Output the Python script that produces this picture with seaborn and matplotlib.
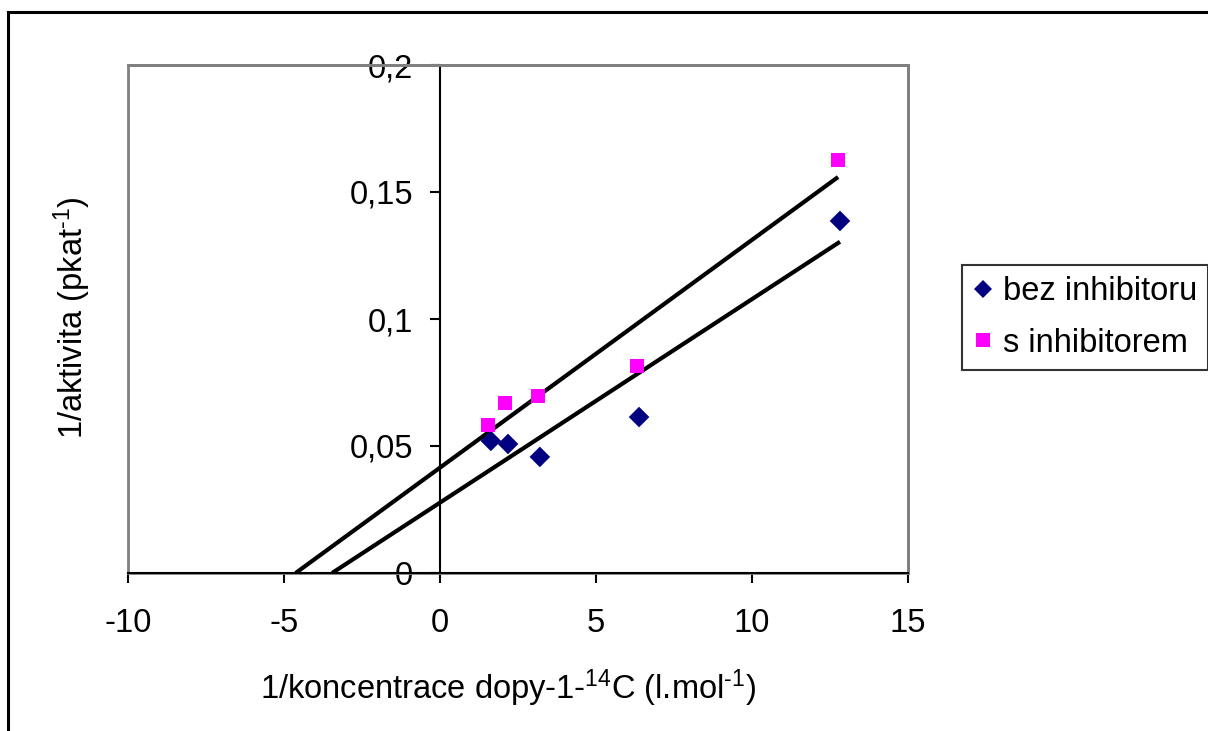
import numpy as np
import pandas as pd
import matplotlib
matplotlib.use("Agg")
import matplotlib.pyplot as plt
from matplotlib.patches import Rectangle
from matplotlib.lines import Line2D
import seaborn as sns

# ---- data ----
x_bez = [1.63, 2.18, 3.20, 6.38, 12.82]
y_bez = [0.0520, 0.0508, 0.0457, 0.0614, 0.1386]
x_s = [1.54, 2.08, 3.14, 6.31, 12.76]
y_s = [0.0583, 0.0669, 0.0697, 0.0815, 0.1626]
series_names = ["bez inhibitoru", "s inhibitorem"]
x_ticks = [-10, -5, 0, 5, 10, 15]
x_tick_labels = ["-10", "-5", "0", "5", "10", "15"]
y_ticks = [0, 0.05, 0.1, 0.15, 0.2]
y_tick_labels = ["0", "0,05", "0,1", "0,15", "0,2"]
x_label = r"1/koncentrace dopy-1-$^{\text{14}}$C (l.mol$^{\text{-1}}$)"
y_label = r"1/aktivita (pkat$^{\text{-1}}$)"

sns.set_style("white")
plt.rcParams["font.family"] = ["Liberation Sans", "DejaVu Sans"]
plt.rcParams["mathtext.fontset"] = "custom"
plt.rcParams["mathtext.rm"] = "Liberation Sans"
plt.rcParams["mathtext.it"] = "Liberation Sans"
plt.rcParams["mathtext.default"] = "regular"
plt.rcParams["axes.unicode_minus"] = False
plt.rcParams["text.color"] = "black"
plt.rcParams["xtick.color"] = "black"
plt.rcParams["ytick.color"] = "black"

W, H = 1208, 731
FS = 23.5
fig = plt.figure(figsize=(W / 100, H / 100), dpi=100)
ax = fig.add_axes([128 / W, 1 - 573 / H, (908 - 128) / W, (573 - 65) / H])

df = pd.DataFrame({
    "x": x_bez + x_s,
    "y": y_bez + y_s,
    "serie": [series_names[0]] * len(x_bez) + [series_names[1]] * len(x_s),
})
colors = {series_names[0]: "#000080", series_names[1]: "#FF00FF"}
markers = {series_names[0]: "D", series_names[1]: "s"}

# trend lines (linear regression, extended back to the x-axis intercept)
for xs, ys in [(x_bez, y_bez), (x_s, y_s)]:
    m, b = np.polyfit(xs, ys, 1)
    x0 = -b / m
    lx = [x0, max(xs)]
    ly = [m * v + b for v in lx]
    ax.plot(lx, ly, color="black", lw=3.0, solid_capstyle="butt", zorder=2,
            clip_on=True)

sns.scatterplot(data=df, x="x", y="y", hue="serie", style="serie",
                palette=colors, markers=markers, s=110, edgecolor="none",
                ax=ax, zorder=3, legend=False)

ax.set_xlim(-10, 15)
ax.set_ylim(0, 0.2)
ax.set_xticks(x_ticks)
ax.set_xticklabels(x_tick_labels)
ax.set_yticks(y_ticks)
ax.set_yticklabels(y_tick_labels)

ax.spines["left"].set_position(("data", 0))
ax.spines["bottom"].set_position(("data", 0))
for s in ["left", "bottom"]:
    ax.spines[s].set_color("black")
    ax.spines[s].set_linewidth(1.5)
    ax.spines[s].set_zorder(2.5)
for s in ["top", "right"]:
    ax.spines[s].set_color("#808080")
    ax.spines[s].set_linewidth(2)
ax.add_patch(Rectangle((0, 0), 1, 1, transform=ax.transAxes, fill=False,
                       edgecolor="#808080", lw=2, zorder=1, clip_on=False))

ax.tick_params(axis="both", which="major", bottom=True, left=True,
               top=False, right=False, direction="out", length=7.2,
               width=1.5, color="black", labelcolor="black", labelsize=FS)
ax.tick_params(axis="x", pad=18)
ax.tick_params(axis="y", pad=12)

ax.set_xlabel("")
ax.set_ylabel("")
fig.text(508 / W, 1 - 688 / H, x_label, ha="center", va="center",
         fontsize=FS, color="black")
fig.text(72 / W, 1 - 318 / H, y_label, ha="center", va="center",
         rotation=90, fontsize=FS, color="black")

# legend
handles = [Line2D([], [], ls="none", marker=markers[n], color=colors[n],
                  markersize=9.5 if markers[n] == "D" else 10.5,
                  markeredgewidth=0)
           for n in series_names]
leg = fig.legend(handles, series_names, loc="upper left",
                 bbox_to_anchor=(962 / W, 1 - 265 / H), fontsize=FS,
                 frameon=True, fancybox=False, borderaxespad=0,
                 handlelength=0.6, handletextpad=0.3, labelspacing=0.62,
                 borderpad=0.35)
leg.get_frame().set_edgecolor("black")
leg.get_frame().set_linewidth(1.5)
for t in leg.get_texts():
    t.set_color("black")

# outer chart border
fig.patches.append(Rectangle((8 / W, -0.1), 1.2, 1 - 12 / H + 0.1,
                             transform=fig.transFigure, fill=False,
                             edgecolor="black", lw=2.2, zorder=0))

fig.savefig("out.png", dpi=100)
